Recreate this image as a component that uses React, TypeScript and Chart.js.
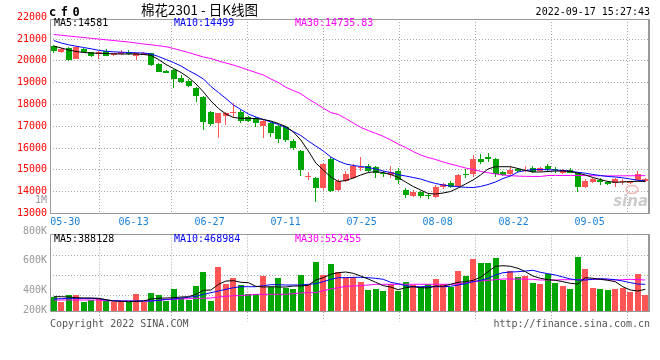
import React, { useEffect, useRef } from 'react';
import { Chart, registerables } from 'chart.js';

Chart.register(...registerables);

// ---------------- text ----------------
const TITLE = '棉花2301 - 日K线图';
const CODE = 'cf0';
const TIMESTAMP = '2022-09-17 15:27:43';
const COPYRIGHT = 'Copyright 2022 SINA.COM';
const SOURCE_URL = 'http://finance.sina.com.cn';
const WATERMARK = 'sina';
const PRICE_MA_LABELS = ['MA5:14581', 'MA10:14499', 'MA30:14735.83'];
const VOL_MA_LABELS = ['MA5:388128', 'MA10:468984', 'MA30:552455'];

// ---------------- categories / ticks ----------------
const DATES = [
  '05-26', '05-27', '05-30', '05-31', '06-01', '06-02', '06-06', '06-07', '06-08', '06-09',
  '06-10', '06-13', '06-14', '06-15', '06-16', '06-17', '06-20', '06-21', '06-22', '06-23',
  '06-24', '06-27', '06-28', '06-29', '06-30', '07-01', '07-04', '07-05', '07-06', '07-07',
  '07-08', '07-11', '07-12', '07-13', '07-14', '07-15', '07-18', '07-19', '07-20', '07-21',
  '07-22', '07-25', '07-26', '07-27', '07-28', '07-29', '08-01', '08-02', '08-03', '08-04',
  '08-05', '08-08', '08-09', '08-10', '08-11', '08-12', '08-15', '08-16', '08-17', '08-18',
  '08-19', '08-22', '08-23', '08-24', '08-25', '08-26', '08-29', '08-30', '08-31', '09-01',
  '09-02', '09-05', '09-06', '09-07', '09-08', '09-09', '09-13', '09-14', '09-15', '09-16',
];
const DATE_TICKS = ['05-30', '06-13', '06-27', '07-11', '07-25', '08-08', '08-22', '09-05'];
const PRICE_TICKS = [13000, 14000, 15000, 16000, 17000, 18000, 19000, 20000, 21000, 22000];
const VOL_GRID_TICKS = [200, 400, 600];
const VOL_TICK_LABELS = ['1M', '800K', '600K', '400K', '200K'];

// ---------------- price series ----------------
const OPEN = [
  20683, 20423, 20576, 20086, 20545, 20392, 20316, 20469, 20255, 20316,
  20377, 20209, 20285, 20346, 19857, 19551, 19582, 19200, 19093, 18741,
  18328, 17671, 17166, 17472, 17625, 17671, 17411, 17365, 17028, 17136,
  17013, 16983, 16340, 15866, 14674, 14613, 14154, 15499, 14077, 14506,
  14613, 15087, 15178, 15117, 14842, 14766, 14949, 14077, 13802, 14001,
  13833, 13741, 14230, 14414, 14276, 14781, 14796, 15499, 15606, 15499,
  14918, 14812, 15025, 14934, 15071, 14949, 15178, 15041, 14842, 14995,
  14873, 14230, 14460, 14536, 14460, 14383, 14460, 14383, 14536, 14506,
];
const HIGH = [
  20729, 20576, 20622, 20683, 20591, 20423, 20453, 20530, 20377, 20499,
  20499, 20377, 20392, 20377, 19888, 19582, 19613, 19353, 19154, 18817,
  18389, 17717, 17625, 17671, 18083, 17747, 17472, 17411, 17288, 17181,
  17059, 17013, 16401, 15912, 14918, 14659, 15301, 15576, 14567, 14949,
  15270, 15576, 15270, 15178, 14949, 15178, 15071, 14154, 14077, 14047,
  13925, 14307, 14414, 14506, 14812, 15025, 15683, 15729, 15759, 15530,
  14964, 15178, 15071, 15178, 15178, 15148, 15270, 15148, 15025, 15102,
  14918, 14567, 14628, 14613, 14506, 14628, 14567, 14506, 14964, 14628,
];
const LOW = [
  20346, 20377, 20010, 20071, 20362, 20163, 20086, 20224, 20224, 20285,
  20270, 20025, 20255, 19781, 19475, 19429, 18741, 18970, 18817, 18129,
  16830, 17013, 16447, 17059, 17441, 17136, 17212, 16983, 16478, 16524,
  16218, 16295, 15912, 14735, 14536, 13542, 14077, 13971, 14047, 14460,
  14567, 14964, 14918, 14613, 14689, 14613, 14353, 13695, 13772, 13726,
  13650, 13726, 14123, 14154, 14230, 14613, 14659, 15270, 15377, 14689,
  14720, 14766, 14918, 14888, 14873, 14903, 14949, 14842, 14812, 14842,
  14001, 14184, 14414, 14307, 14292, 14230, 14307, 14353, 14506, 14429,
];
const CLOSE = [
  20469, 20530, 20041, 20652, 20392, 20239, 20423, 20239, 20346, 20392,
  20301, 20362, 20377, 19811, 19506, 19460, 19169, 19016, 18863, 18405,
  17212, 17105, 17594, 17625, 17671, 17243, 17258, 17166, 17243, 16707,
  16417, 16371, 15989, 14995, 14720, 14184, 15270, 14047, 14506, 14812,
  15178, 15148, 14949, 14873, 14796, 14903, 14536, 13848, 13986, 13818,
  13802, 14200, 14338, 14230, 14766, 14750, 15484, 15377, 15515, 14796,
  14766, 14995, 14949, 14964, 14918, 15102, 15025, 15010, 14995, 14873,
  14200, 14506, 14582, 14429, 14338, 14582, 14506, 14460, 14812, 14582,
];
const MA5 = [
  20683, 20591, 20500, 20431, 20385, 20362, 20348, 20339, 20325, 20316,
  20316, 20316, 20293, 20256, 20064, 19834, 19651, 19467, 19238, 18940,
  18573, 18160, 17816, 17564, 17403, 17367, 17367, 17357, 17312, 17243,
  17128, 16990, 16738, 16371, 15867, 15316, 14995, 14674, 14468, 14513,
  14628, 14766, 14880, 14917, 14880, 14789, 14651, 14445, 14238, 14078,
  13917, 13894, 13940, 14009, 14169, 14353, 14536, 14766, 15041, 15146,
  15146, 15146, 15064, 14972, 14903, 14903, 14926, 14949, 14949, 14926,
  14857, 14766, 14651, 14559, 14468, 14431, 14445, 14468, 14477, 14470,
];
const MA10 = [
  20935, 20821, 20738, 20674, 20614, 20555, 20486, 20444, 20417, 20399,
  20385, 20371, 20362, 20316, 20201, 20064, 19926, 19766, 19559, 19376,
  19169, 18825, 18550, 18275, 17977, 17770, 17564, 17426, 17312, 17197,
  17082, 16945, 16761, 16578, 16325, 16096, 15867, 15591, 15408, 15270,
  15202, 15156, 15110, 15041, 14949, 14880, 14780, 14720, 14651, 14582,
  14468, 14376, 14307, 14261, 14229, 14201, 14192, 14238, 14330, 14445,
  14605, 14720, 14903, 14972, 15009, 15018, 15009, 14995, 14972, 14940,
  14890, 14848, 14789, 14743, 14697, 14674, 14637, 14582, 14523, 14499,
];
const MA30 = [
  21210, 21178, 21142, 21105, 21073, 21036, 21004, 20967, 20935, 20899,
  20866, 20821, 20775, 20738, 20697, 20651, 20568, 20477, 20385, 20279,
  20178, 20110, 19995, 19903, 19811, 19697, 19582, 19467, 19353, 19169,
  19009, 18788, 18642, 18495, 18252, 18050, 17830, 17633, 17541, 17357,
  17151, 16949, 16807, 16678, 16541, 16371, 16188, 16027, 15844, 15683,
  15568, 15477, 15362, 15270, 15179, 15087, 15018, 14935, 14871, 14812,
  14766, 14735, 14715, 14705, 14700, 14700, 14740, 14745, 14745, 14745,
  14745, 14740, 14735, 14730, 14725, 14725, 14730, 14730, 14735, 14736,
];

// ---------------- volume series (thousand lots) ----------------
const VOLUME = [
  190, 140, 207, 207, 140, 157, 167, 147, 134, 134,
  140, 217, 140, 230, 207, 150, 267, 174, 157, 297,
  437, 147, 490, 317, 380, 307, 214, 214, 400, 290,
  380, 280, 267, 407, 314, 540, 407, 520, 440, 384,
  384, 340, 257, 267, 247, 314, 250, 340, 307, 284,
  314, 367, 314, 284, 450, 397, 567, 527, 527, 577,
  357, 447, 390, 397, 330, 317, 417, 330, 297, 270,
  590, 467, 280, 270, 257, 270, 280, 240, 417, 207,
];
const VOL_MA5 = [
  190, 190, 187, 180, 177, 177, 174, 160, 147, 144,
  140, 144, 147, 167, 174, 177, 180, 187, 190, 214,
  254, 257, 314, 347, 350, 334, 330, 294, 287, 290,
  287, 287, 297, 297, 304, 357, 380, 414, 430, 437,
  424, 397, 367, 334, 300, 287, 260, 280, 290, 280,
  277, 297, 294, 314, 334, 340, 354, 384, 440, 494,
  500, 494, 474, 440, 397, 374, 360, 354, 340, 324,
  317, 380, 374, 364, 354, 340, 290, 257, 247, 264,
];
const VOL_MA10 = [
  167, 170, 174, 174, 174, 174, 170, 157, 150, 147,
  147, 147, 147, 147, 154, 164, 167, 177, 184, 194,
  214, 230, 247, 264, 280, 290, 290, 290, 300, 310,
  310, 307, 307, 307, 314, 320, 340, 364, 380, 380,
  384, 384, 380, 374, 364, 334, 320, 300, 290, 290,
  290, 290, 290, 294, 307, 320, 340, 354, 374, 407,
  430, 437, 440, 447, 454, 434, 420, 407, 387, 367,
  357, 357, 364, 370, 367, 360, 347, 330, 317, 314,
];
const VOL_MA30 = [
  157, 157, 157, 157, 157, 157, 157, 150, 147, 147,
  147, 147, 147, 147, 154, 160, 164, 167, 170, 174,
  174, 177, 187, 194, 200, 200, 207, 214, 214, 214,
  214, 214, 220, 227, 230, 230, 250, 267, 280, 294,
  297, 300, 307, 314, 314, 314, 314, 314, 314, 314,
  314, 314, 314, 314, 317, 327, 340, 347, 354, 360,
  367, 367, 367, 367, 364, 357, 357, 357, 360, 360,
  360, 364, 364, 364, 360, 357, 360, 364, 360, 357,
];

// ---------------- styles / layout ----------------
const MONO = '"DejaVu Sans Mono", monospace';
const CJK = '"Noto Sans CJK SC", sans-serif';
const RED = '#ff5555';
const GREEN = '#00a600';
const MA_COLORS = ['#000000', '#0000ff', '#ff00ff'];
const GRID_COLOR = '#a8a8a8';
const FRAME_COLOR = '#999999';
const DATE_COLOR = '#1a7fd6';
const PRICE_COLOR = '#ff0000';
const VOL_LABEL_COLOR = '#999999';
const FOOT_COLOR = '#555555';
const GRID_STEP = 7.6 / 7.4875;
const MA_LABEL_X = [54, 174, 295];
const VOL_LABEL_Y = [200.5, 231, 260, 290.5, 310.5];
const PRICE_MIN = 13000;
const PRICE_MAX = 21922;
const VOL_MIN = 42;
const VOL_MAX = 812;

const xOf = (i: number) => i + 0.5;
const isUp = (i: number) => CLOSE[i] >= OPEN[i];
const barColors = DATES.map((_, i) => (isUp(i) ? RED : GREEN));
const dateTickValues = DATE_TICKS.map((d) => DATES.indexOf(d) * GRID_STEP);

const lineDs = (label: string, values: number[], color: string) => ({
  type: 'line',
  label,
  data: values.map((v, i) => ({ x: xOf(i), y: v })),
  borderColor: color,
  borderWidth: 1,
  pointRadius: 0,
  tension: 0,
  fill: false,
  order: 0,
});

// snaps the bar elements computed by the scales onto whole device pixels (crisp, like the bitmap original)
const snapPlugin = {
  id: 'snap',
  afterDatasetsUpdate(chart: any) {
    chart.data.datasets.forEach((ds: any, di: number) => {
      const meta = chart.getDatasetMeta(di);
      if (meta.type !== 'bar') return;
      meta.data.forEach((el: any) => {
        const w = Math.round(el.width);
        const left = Math.round(el.x - w / 2);
        el.width = w;
        el.x = left + w / 2;
        el.y = Math.round(el.y);
        el.base = Math.round(el.base);
      });
    });
  },
};

const framePlugin = {
  id: 'frame',
  afterDatasetsDraw(chart: any) {
    const { ctx, chartArea: a } = chart;
    const l = Math.floor(a.left) + 0.5;
    const t = Math.floor(a.top) + 0.5;
    const b = Math.floor(a.bottom) + 0.5;
    const r = Math.round(a.right);
    ctx.save();
    ctx.strokeStyle = FRAME_COLOR;
    ctx.lineWidth = 1;
    ctx.beginPath();
    ctx.moveTo(r, t);
    ctx.lineTo(l, t);
    ctx.lineTo(l, b);
    ctx.lineTo(r, b);
    ctx.stroke();
    ctx.lineWidth = 2;
    ctx.beginPath();
    ctx.moveTo(r, t - 0.5);
    ctx.lineTo(r, b + 0.5);
    ctx.stroke();
    ctx.restore();
  },
};

const mainTextPlugin = {
  id: 'mainText',
  beforeDatasetsDraw(chart: any) {
    const { ctx, chartArea: a } = chart;
    ctx.save();
    ctx.strokeStyle = 'rgba(240,170,170,0.8)';
    ctx.lineWidth = 1.5;
    ctx.beginPath();
    ctx.ellipse(a.right - 17, a.bottom - 24, 6, 4, 0, 0, Math.PI * 2);
    ctx.stroke();
    ctx.font = 'italic bold 15px "DejaVu Sans", sans-serif';
    ctx.fillStyle = 'rgba(195,195,195,0.85)';
    ctx.textAlign = 'right';
    ctx.textBaseline = 'alphabetic';
    ctx.fillText(WATERMARK, a.right - 1, a.bottom - 8);
    ctx.restore();
  },
  afterDraw(chart: any) {
    const { ctx } = chart;
    ctx.save();
    ctx.fillStyle = '#000';
    ctx.textAlign = 'left';
    ctx.textBaseline = 'middle';
    ctx.font = `13.5px ${CJK}`;
    ctx.fillText(TITLE, 141, 10);
    ctx.font = `bold 12px ${MONO}`;
    ctx.textBaseline = 'alphabetic';
    CODE.split('').forEach((c, k) => ctx.fillText(c, 49 + k * 11.8, 16));
    ctx.textBaseline = 'middle';
    ctx.font = `10px ${MONO}`;
    ctx.textAlign = 'right';
    ctx.fillText(TIMESTAMP, 650, 12);
    ctx.textAlign = 'left';
    PRICE_MA_LABELS.forEach((s, k) => {
      ctx.fillStyle = MA_COLORS[k];
      ctx.fillText(s, MA_LABEL_X[k], 23.5);
    });
    ctx.restore();
  },
};

const volTextPlugin = {
  id: 'volText',
  afterDraw(chart: any) {
    const { ctx } = chart;
    ctx.save();
    ctx.font = `10px ${MONO}`;
    ctx.textBaseline = 'middle';
    ctx.textAlign = 'left';
    VOL_MA_LABELS.forEach((s, k) => {
      ctx.fillStyle = MA_COLORS[k];
      ctx.fillText(s, MA_LABEL_X[k], 239);
    });
    ctx.textAlign = 'right';
    ctx.fillStyle = VOL_LABEL_COLOR;
    VOL_TICK_LABELS.forEach((s, k) => ctx.fillText(s, 47, VOL_LABEL_Y[k]));
    ctx.fillStyle = FOOT_COLOR;
    ctx.textAlign = 'left';
    ctx.fillText(COPYRIGHT, 50, 324);
    ctx.textAlign = 'right';
    ctx.fillText(SOURCE_URL, 650, 324);
    ctx.restore();
  },
};

const commonX = (showLabels: boolean) => ({
  type: 'linear',
  min: 0,
  max: DATES.length,
  offset: false,
  afterBuildTicks: (s: any) => {
    s.ticks = dateTickValues.map((v) => ({ value: v }));
  },
  ticks: {
    display: showLabels,
    autoSkip: false,
    maxRotation: 0,
    padding: 3,
    color: DATE_COLOR,
    font: { family: MONO, size: 10 },
    callback: (_v: any, i: number) => DATE_TICKS[i],
  },
  grid: {
    color: GRID_COLOR,
    lineWidth: 1,
    drawTicks: !showLabels,
    tickLength: 10,
    tickColor: GRID_COLOR,
    tickBorderDash: [1, 2],
  },
  border: { display: false, dash: [1, 2] },
  afterFit: (s: any) => {
    s.height = showLabels ? 20 : 10;
  },
});

const barBase = {
  type: 'bar',
  borderWidth: 0,
  grouped: false,
  barPercentage: 1,
  inflateAmount: 0,
};

function mainConfig(): any {
  return {
    type: 'bar',
    data: {
      datasets: [
        lineDs('MA5', MA5, MA_COLORS[0]),
        lineDs('MA10', MA10, MA_COLORS[1]),
        lineDs('MA30', MA30, MA_COLORS[2]),
        {
          ...barBase,
          label: 'body',
          data: OPEN.map((o, i) => ({ x: xOf(i), y: [Math.min(o, CLOSE[i]), Math.max(o, CLOSE[i])] })),
          backgroundColor: barColors,
          maxBarThickness: 6,
          minBarLength: 1,
          order: 1,
        },
        {
          ...barBase,
          label: 'wick',
          data: LOW.map((l, i) => ({ x: xOf(i), y: [l, HIGH[i]] })),
          backgroundColor: barColors,
          maxBarThickness: 1,
          order: 2,
        },
      ],
    },
    options: {
      responsive: false,
      animation: false,
      devicePixelRatio: 1,
      events: [],
      layout: { padding: { left: 0, top: 19, right: 11, bottom: 126.5 } },
      plugins: { legend: { display: false }, tooltip: { enabled: false } },
      scales: {
        x: commonX(true),
        y: {
          type: 'linear',
          min: PRICE_MIN,
          max: PRICE_MAX,
          afterBuildTicks: (s: any) => {
            s.ticks = PRICE_TICKS.map((v) => ({ value: v }));
          },
          ticks: {
            autoSkip: false,
            padding: 3,
            color: PRICE_COLOR,
            font: { family: MONO, size: 10 },
            callback: (v: any) => String(v),
          },
          grid: {
            color: (c: any) => (c.tick && c.tick.value > PRICE_MAX ? 'rgba(0,0,0,0)' : GRID_COLOR),
            lineWidth: 1,
            drawTicks: false,
          },
          border: { display: false, dash: [1, 2] },
          afterFit: (s: any) => {
            s.width = 50;
          },
        },
      },
    },
    plugins: [snapPlugin, mainTextPlugin, framePlugin],
  };
}

function volConfig(): any {
  return {
    type: 'bar',
    data: {
      datasets: [
        lineDs('MA5', VOL_MA5, MA_COLORS[0]),
        lineDs('MA10', VOL_MA10, MA_COLORS[1]),
        lineDs('MA30', VOL_MA30, MA_COLORS[2]),
        {
          ...barBase,
          label: 'volume',
          data: VOLUME.map((v, i) => ({ x: xOf(i), y: v })),
          backgroundColor: barColors,
          maxBarThickness: 6,
          order: 1,
        },
      ],
    },
    options: {
      responsive: false,
      animation: false,
      devicePixelRatio: 1,
      events: [],
      layout: { padding: { left: 0, top: 234.5, right: 11, bottom: 38.5 } },
      plugins: { legend: { display: false }, tooltip: { enabled: false } },
      scales: {
        x: commonX(false),
        y: {
          type: 'linear',
          min: VOL_MIN,
          max: VOL_MAX,
          afterBuildTicks: (s: any) => {
            s.ticks = VOL_GRID_TICKS.map((v) => ({ value: v }));
          },
          ticks: { display: false },
          grid: { color: GRID_COLOR, lineWidth: 1, drawTicks: false },
          border: { display: false, dash: [1, 2] },
          afterFit: (s: any) => {
            s.width = 50;
          },
        },
      },
    },
    plugins: [snapPlugin, volTextPlugin, framePlugin],
  };
}

export default function App() {
  const mainRef = useRef<HTMLCanvasElement>(null);
  const volRef = useRef<HTMLCanvasElement>(null);

  useEffect(() => {
    const main = new Chart(mainRef.current as HTMLCanvasElement, mainConfig());
    const vol = new Chart(volRef.current as HTMLCanvasElement, volConfig());
    return () => {
      main.destroy();
      vol.destroy();
    };
  }, []);

  const canvasStyle: React.CSSProperties = { position: 'absolute', left: 0, top: 0, width: 660, height: 360 };
  return (
    <div style={{ position: 'absolute', left: 0, top: 0, width: 660, height: 360, background: '#ffffff' }}>
      <canvas ref={mainRef} width={660} height={360} style={canvasStyle} />
      <canvas ref={volRef} width={660} height={360} style={canvasStyle} />
    </div>
  );
}
